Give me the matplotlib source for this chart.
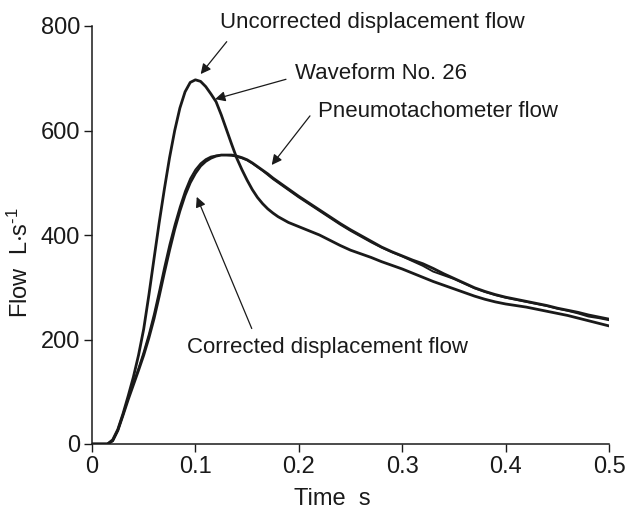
import matplotlib
matplotlib.use("Agg")
import matplotlib.pyplot as plt
from matplotlib import font_manager

# ---------------- data ----------------
time_s = [0, 0.01, 0.015, 0.02, 0.025, 0.03, 0.035, 0.04, 0.045, 0.05, 0.055, 0.06, 0.065,
          0.07, 0.075, 0.08, 0.085, 0.09, 0.095, 0.10, 0.105, 0.11, 0.115, 0.12, 0.125,
          0.13, 0.135, 0.14, 0.145, 0.15, 0.155, 0.16, 0.165, 0.17, 0.175, 0.18, 0.19,
          0.20, 0.21, 0.22, 0.23, 0.24, 0.25, 0.26, 0.27, 0.28, 0.29, 0.30, 0.31, 0.32,
          0.33, 0.34, 0.35, 0.36, 0.37, 0.38, 0.39, 0.40, 0.41, 0.42, 0.43, 0.44, 0.45,
          0.46, 0.47, 0.48, 0.49, 0.50]

uncorrected = [0, 0, 0, 8, 28, 58, 92, 128, 170, 220, 285, 355, 424,
               488, 548, 600, 643, 674, 692, 697, 694, 684, 670, 655, 630,
               602, 574, 547, 525, 505, 487, 472, 460, 450, 442, 435, 424,
               416, 408, 400, 390, 380, 371, 364, 357, 349, 342, 335, 327, 319,
               311, 304, 297, 290, 283, 277, 272, 268, 265, 262, 258, 254, 250,
               246, 241, 236, 231, 226]

pneumotachometer = [0, 0, 0, 6, 26, 55, 85, 113, 141, 170, 203, 240, 283,
                    328, 371, 411, 446, 476, 500, 518, 532, 541, 547, 551, 553,
                    553, 553, 551, 548, 544, 538, 531, 524, 517, 509, 502, 488,
                    474, 461, 448, 435, 422, 410, 399, 388, 377, 368, 360, 352, 345,
                    336, 326, 317, 308, 299, 292, 286, 281, 277, 273, 269, 265, 260,
                    256, 252, 247, 243, 239]

corrected = [0, 0, 0, 6, 26, 56, 87, 116, 145, 176, 210, 249, 293,
             339, 382, 420, 454, 484, 508, 525, 537, 545, 550, 552, 553,
             553, 552, 550, 547, 543, 537, 530, 523, 515, 507, 500, 486,
             472, 459, 446, 433, 420, 408, 397, 386, 376, 367, 359, 350, 341,
             330, 323, 316, 307, 298, 291, 285, 280, 276, 272, 268, 264, 259,
             255, 250, 244, 241, 237]

x_ticks = [0, 0.1, 0.2, 0.3, 0.4, 0.5]
x_tick_labels = ["0", "0.1", "0.2", "0.3", "0.4", "0.5"]
y_ticks = [0, 200, 400, 600, 800]

# ---------------- style ----------------
names = {f.name for f in font_manager.fontManager.ttflist}
fam = "Liberation Sans Narrow" if "Liberation Sans Narrow" in names else "Liberation Sans"
plt.rcParams["font.family"] = [fam, "DejaVu Sans"]
plt.rcParams["mathtext.fontset"] = "custom"
plt.rcParams["mathtext.rm"] = fam
plt.rcParams["mathtext.it"] = fam
plt.rcParams["mathtext.default"] = "regular"

FS = 17
FA = 16
ink = "#1a1a1a"

fig = plt.figure(figsize=(6.37, 5.12), dpi=100)
ax = fig.add_axes([92 / 637, 1 - 444 / 512, (609 - 92) / 637, (444 - 26) / 512])

lw = 2.0
ax.plot(time_s, pneumotachometer, color=ink, lw=lw, solid_capstyle="round")
ax.plot(time_s, corrected, color=ink, lw=1.4, solid_capstyle="round")
ax.plot(time_s, uncorrected, color=ink, lw=lw, solid_capstyle="round")

ax.set_xlim(0, 0.5)
ax.set_ylim(0, 800)
ax.set_xticks(x_ticks)
ax.set_xticklabels(x_tick_labels)
ax.set_yticks(y_ticks)
for s in ["top", "right"]:
    ax.spines[s].set_visible(False)
for s in ["left", "bottom"]:
    ax.spines[s].set_linewidth(1.1)
    ax.spines[s].set_color(ink)
ax.tick_params(axis="both", direction="out", length=5.5, width=1.0, colors=ink,
               labelsize=FS, pad=3)

ax.set_xlabel("Time  s", fontsize=FS, color=ink)
ax.xaxis.set_label_coords(0.465, -0.105)
ax.set_ylabel(r"Flow  L$\cdot$s$^{\text{-}1}$", fontsize=FS, color=ink)
ax.yaxis.set_label_coords(-0.115, 0.433)

arrow = dict(arrowstyle="-|>", color=ink, lw=0.9, mutation_scale=15,
             shrinkA=0, shrinkB=0)

ax.annotate("", xy=(0.1051, 708), xytext=(0.1303, 770), arrowprops=arrow)
ax.text(0.2713, 806, "Uncorrected displacement flow", fontsize=FA, color=ink,
        ha="center", va="center")

ax.annotate("", xy=(0.119, 660), xytext=(0.1876, 698), arrowprops=arrow)
ax.text(0.1963, 710, "Waveform No. 26", fontsize=FA, color=ink, ha="left", va="center")

ax.annotate("", xy=(0.1738, 534), xytext=(0.2108, 628), arrowprops=arrow)
ax.text(0.2186, 636, "Pneumotachometer flow", fontsize=FA, color=ink, ha="left", va="center")

ax.annotate("", xy=(0.1013, 473), xytext=(0.1545, 221), arrowprops=arrow)
ax.text(0.0919, 184, "Corrected displacement flow", fontsize=FA, color=ink,
        ha="left", va="center")

fig.savefig("out.png", dpi=100)
